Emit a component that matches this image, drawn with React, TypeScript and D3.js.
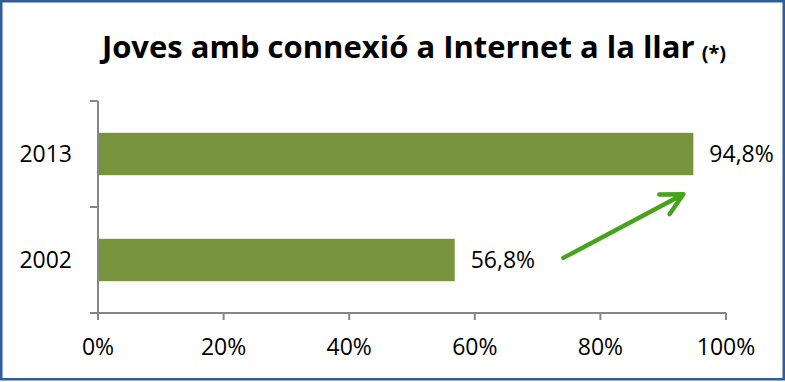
import * as d3 from 'd3';

const CATEGORIES = ['2013', '2002'];
const VALUES = [94.8, 56.8];
const VALUE_LABELS = ['94,8%', '56,8%'];
const X_TICKS = [0, 20, 40, 60, 80, 100];
const TITLE = 'Joves amb connexió a Internet a la llar';
const TITLE_NOTE = '(*)';

const W = 785;
const H = 382;
const MARGIN = { top: 101, right: 59, bottom: 69, left: 98 };
const FONT = '"Open Sans", "Noto Sans", sans-serif';
const BAR_COLOR = '#77933C';
const AXIS_COLOR = '#868686';
const ARROW_COLOR = '#47A31B';

export default function App() {
  const innerW = W - MARGIN.left - MARGIN.right;
  const innerH = H - MARGIN.top - MARGIN.bottom;

  const x = d3.scaleLinear().domain([0, 100]).range([0, innerW]);
  const y = d3.scaleBand<string>().domain(CATEGORIES).range([0, innerH]).paddingInner(0.6).paddingOuter(0.3);
  const step = y.step();
  const bw = y.bandwidth();

  // arrow from the 2002 label area up towards the 2013 bar end
  const x0 = x(74.1), y0 = y('2002')! + bw * 0.45;
  const x1 = x(93.2), y1 = y('2013')! + bw * 1.45;
  const ang = Math.atan2(y1 - y0, x1 - x0);
  const armLen = 24;
  const arm = (da: number) => [x1 - armLen * Math.cos(ang + da), y1 - armLen * Math.sin(ang + da)];
  const a1 = arm(0.48);
  const a2 = arm(-0.48);

  return (
    <div style={{ position: 'absolute', left: 0, top: 0 }}>
      <svg width={W} height={H} style={{ display: 'block', background: '#fff' }}>
        <rect x={1.25} y={1.25} width={W - 2.5} height={H - 4} fill="#fff" stroke="#2F5D9B" strokeWidth={2.5} />

        <text x={414} y={58} textAnchor="middle" fontFamily={FONT} fontWeight={700} fontSize={31} fill="#000">
          {TITLE}
          <tspan fontSize={20} dx={7} dy={2}>{TITLE_NOTE}</tspan>
        </text>

        <g transform={`translate(${MARGIN.left},${MARGIN.top})`}>
          {CATEGORIES.map((c, i) => (
            <g key={c}>
              <rect x={0} y={y(c)} width={x(VALUES[i])} height={bw} fill={BAR_COLOR} />
              <text x={x(VALUES[i]) + 16} y={y(c)! + bw / 2} dy="0.36em" fontFamily={FONT} fontSize={23} fill="#000">
                {VALUE_LABELS[i]}
              </text>
              <text x={-26} y={y(c)! + bw / 2} dy="0.36em" textAnchor="end" fontFamily={FONT} fontSize={23} fill="#000">
                {c}
              </text>
            </g>
          ))}

          {/* y axis */}
          <line x1={0} x2={0} y1={0} y2={innerH} stroke={AXIS_COLOR} strokeWidth={2} />
          {d3.range(CATEGORIES.length + 1).map(k => (
            <line key={k} x1={-8} x2={0} y1={k * step} y2={k * step} stroke={AXIS_COLOR} strokeWidth={2} />
          ))}

          {/* x axis */}
          <line x1={0} x2={innerW} y1={innerH} y2={innerH} stroke={AXIS_COLOR} strokeWidth={2} />
          {X_TICKS.map(t => (
            <g key={t} transform={`translate(${x(t)},${innerH})`}>
              <line y1={0} y2={7} stroke={AXIS_COLOR} strokeWidth={2} />
              <text y={42} textAnchor="middle" fontFamily={FONT} fontSize={23} fill="#000">{`${t}%`}</text>
            </g>
          ))}

          <path
            d={`M${x0},${y0}L${x1},${y1}M${a1[0]},${a1[1]}L${x1},${y1}L${a2[0]},${a2[1]}`}
            fill="none" stroke={ARROW_COLOR} strokeWidth={4.5} strokeLinecap="round" strokeLinejoin="round"
          />
        </g>
      </svg>
    </div>
  );
}
